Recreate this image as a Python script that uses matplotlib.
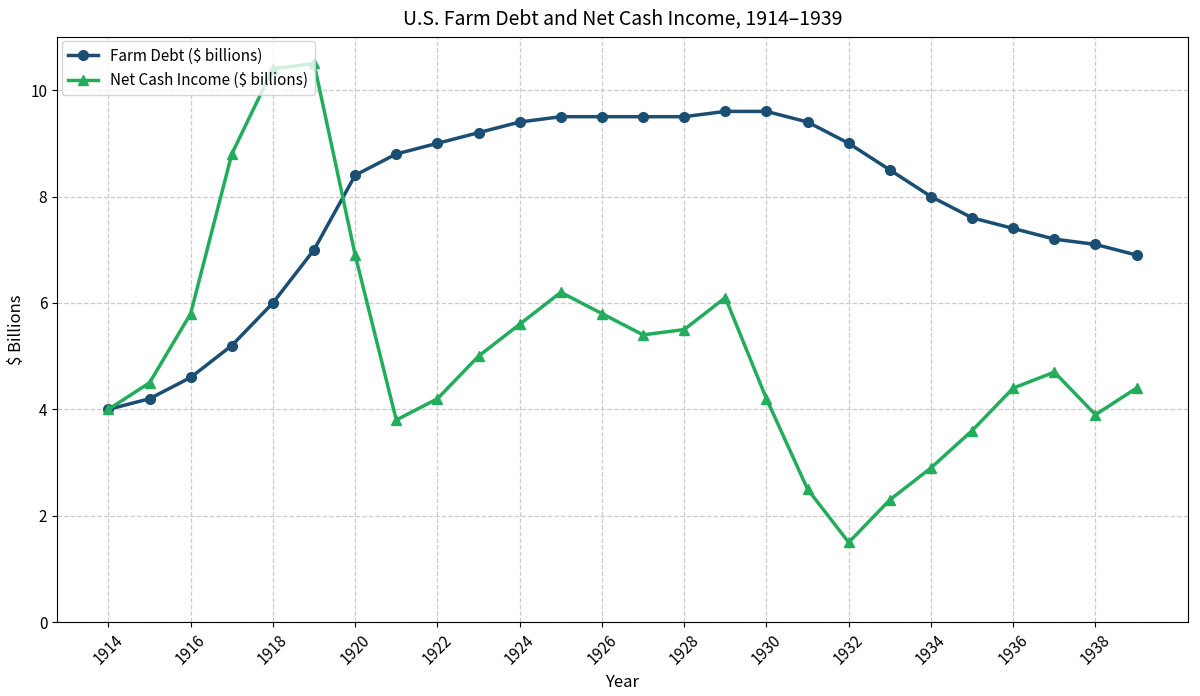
import matplotlib.pyplot as plt

plt.rcParams['font.family'] = ['Noto Sans CJK JP', 'DejaVu Sans']

years = list(range(1914, 1940))
farm_debt = [4.0, 4.2, 4.6, 5.2, 6.0, 7.0, 8.4, 8.8, 9.0, 9.2, 9.4, 9.5, 9.5,
             9.5, 9.5, 9.6, 9.6, 9.4, 9.0, 8.5, 8.0, 7.6, 7.4, 7.2, 7.1, 6.9]
net_income = [4.0, 4.5, 5.8, 8.8, 10.4, 10.5, 6.9, 3.8, 4.2, 5.0, 5.6, 6.2, 5.8,
              5.4, 5.5, 6.1, 4.2, 2.5, 1.5, 2.3, 2.9, 3.6, 4.4, 4.7, 3.9, 4.4]

fig, ax = plt.subplots(figsize=(12, 6.96), dpi=100)

ax.plot(years, farm_debt, '-o', color='#1a4e72', lw=2.5, ms=7,
        label='Farm Debt ($ billions)')
ax.plot(years, net_income, '-^', color='#22ac5c', lw=2.5, ms=7,
        label='Net Cash Income ($ billions)')

ax.set_title('U.S. Farm Debt and Net Cash Income, 1914\u20131939', fontsize=14, pad=9)
ax.set_xlabel('Year', fontsize=12)
ax.set_ylabel('$ Billions', fontsize=12)
ax.set_ylim(0, 11)
ax.set_xticks(years[::2])
plt.setp(ax.get_xticklabels(), rotation=45)
ax.tick_params(labelsize=11)
ax.grid(True, linestyle='--', color='#cccccc', lw=0.9)
ax.legend(loc='upper left', fontsize=11, borderaxespad=0.3)

fig.subplots_adjust(left=0.0475, right=0.99, top=0.947, bottom=0.106)
fig.savefig('out.png', dpi=100)
